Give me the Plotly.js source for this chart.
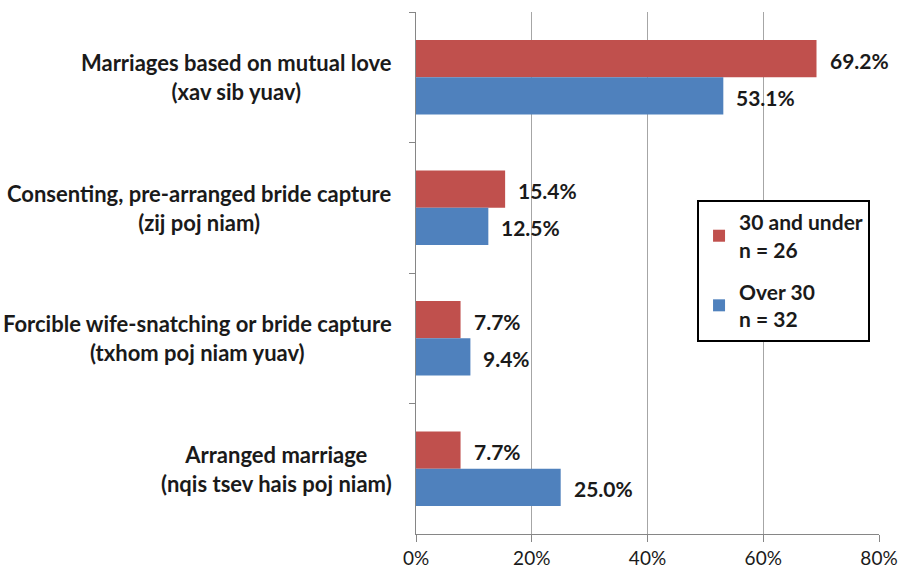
<!DOCTYPE html>
<html>
<head>
<meta charset="utf-8">
<script src="https://cdn.plot.ly/plotly-3.0.1.min.js"></script>
<style>
html,body{margin:0;padding:0;background:#fff;}
#chart{width:908px;height:574px;}
</style>
</head>
<body>
<div id="chart"></div>
<script>
const categoryNames = [
  "Marriages based on mutual love",
  "Consenting, pre-arranged bride capture",
  "Forcible wife-snatching or bride capture",
  "Arranged marriage"
];
const categoryHmong = [
  "(xav sib yuav)",
  "(zij poj niam)",
  "(txhom poj niam yuav)",
  "(nqis tsev hais poj niam)"
];
const seriesNames = ["30 and under<br>n = 26", "Over 30<br>n = 32"];
const under30 = [69.2, 15.4, 7.7, 7.7];
const over30 = [53.1, 12.5, 9.4, 25.0];
const xTickVals = [0, 20, 40, 60, 80];
const xTickText = ["0%", "20%", "40%", "60%", "80%"];

const RED = "#C0504D", BLUE = "#4F81BD", TXT = "#1a1a1a", AX = "#868686";

const traces = [
  {type: "bar", orientation: "h", name: seriesNames[0], x: under30, y: categoryNames,
   marker: {color: RED}, legendgroup: "a", hoverinfo: "x"},
  {type: "bar", orientation: "h", name: seriesNames[1], x: over30, y: categoryNames,
   marker: {color: BLUE}, legendgroup: "b", hoverinfo: "x"}
];

const annotations = [];
categoryNames.forEach((c, i) => {
  annotations.push({
    xref: "paper", yref: "y", x: -0.0475, y: c, xanchor: "right", yanchor: "middle",
    align: "center", showarrow: false,
    text: c + "<br>" + categoryHmong[i],
    font: {family: "Lato", size: 22, color: TXT, weight: "bold"}
  });
});
[[under30, 17], [over30, -20]].forEach(([vals, ys]) => {
  vals.forEach((v, i) => {
    annotations.push({
      xref: "x", yref: "y", x: v, y: categoryNames[i], xanchor: "left", yanchor: "middle",
      xshift: 11, yshift: ys, showarrow: false,
      text: v.toFixed(1) + "%",
      font: {family: "Lato", size: 21, color: TXT, weight: "bold"}
    });
  });
});

const layout = {
  width: 908, height: 574,
  margin: {l: 416, r: 29, t: 12, b: 40, pad: 0},
  paper_bgcolor: "#fff", plot_bgcolor: "#fff",
  font: {family: "Lato", color: TXT},
  barmode: "group", bargap: 0.43, bargroupgap: 0,
  showlegend: true,
  legend: {
    x: 0.607, y: 0.64, xanchor: "left", yanchor: "top",
    bgcolor: "#fff", bordercolor: "#000", borderwidth: 2,
    traceorder: "grouped", tracegroupgap: 12,
    itemwidth: 30,
    font: {family: "Lato", size: 21, color: TXT, weight: "bold"}
  },
  xaxis: {
    range: [0, 80], tickvals: xTickVals, ticktext: xTickText,
    showgrid: true, gridcolor: "#a6a6a6", gridwidth: 1,
    zeroline: false, showline: true, linecolor: AX, linewidth: 1,
    ticks: "outside", ticklen: 7, tickcolor: AX,
    tickfont: {family: "Lato", size: 19, color: TXT},
    fixedrange: true
  },
  yaxis: {
    type: "category", autorange: "reversed",
    showticklabels: false, showgrid: false, zeroline: false,
    showline: true, linecolor: AX, linewidth: 1,
    ticks: "outside", ticklen: 6, tickcolor: AX, tickson: "boundaries",
    fixedrange: true
  },
  annotations: annotations
};

Plotly.newPlot("chart", traces, layout, {displayModeBar: false, staticPlot: true});
</script>
</body>
</html>
